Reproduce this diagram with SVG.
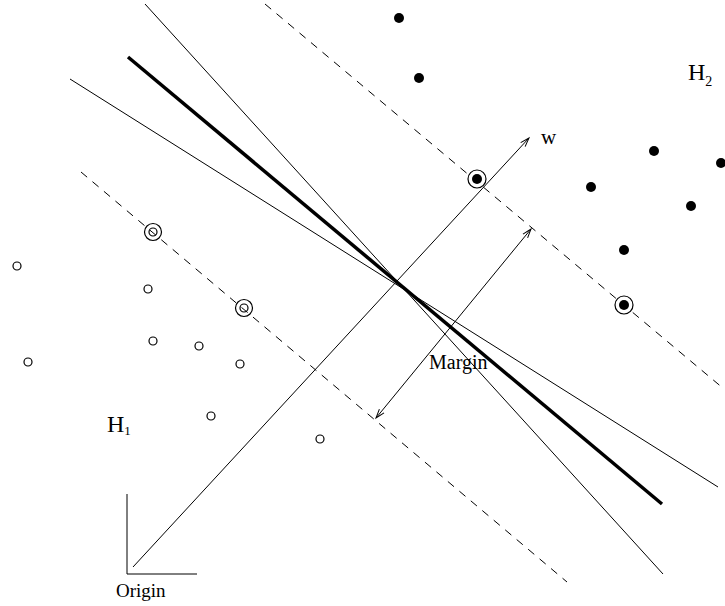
<svg xmlns="http://www.w3.org/2000/svg" width="725" height="606" viewBox="0 0 725 606">
<style>
.ln{stroke:#000;stroke-width:1;fill:none}
.thick{stroke:#000;stroke-width:3.5;fill:none}
.dash{stroke:#000;stroke-width:1;fill:none;stroke-dasharray:8 7}
.open{fill:#fff;stroke:#000;stroke-width:1.2}
.fill{fill:#000;stroke:none}
.ring{fill:none;stroke:#000;stroke-width:1.2}
text{font-family:"Liberation Serif","Times New Roman",serif;fill:#000}
</style>
<defs>
<marker id="ah" viewBox="-10 -5 12 10" refX="0" refY="0" markerWidth="12" markerHeight="10" markerUnits="userSpaceOnUse" orient="auto-start-reverse">
<path d="M-9,-3 L0,0 L-9,3" fill="none" stroke="#000" stroke-width="1"/>
</marker>
</defs>
<rect width="725" height="606" fill="#fff"/>
<g id="connectors">
<line class="dash" x1="265" y1="4" x2="724" y2="389"/>
<line class="dash" x1="81" y1="172" x2="567" y2="582"/>
<line class="ln" x1="145" y1="4" x2="663" y2="574"/>
<line class="ln" x1="70" y1="79" x2="718" y2="487"/>
<line class="thick" x1="128" y1="57" x2="662" y2="504"/>
<line class="ln" x1="133" y1="567" x2="529" y2="138" marker-end="url(#ah)"/>
<line class="ln" x1="376" y1="418" x2="531" y2="229" marker-start="url(#ah)" marker-end="url(#ah)"/>
<polyline class="ln" points="127,494 127,574 197,574"/>
</g>
<g id="H1-points">
<circle class="open" cx="17" cy="266" r="4"/>
<circle class="open" cx="148" cy="289" r="4"/>
<circle class="open" cx="28" cy="362" r="4"/>
<circle class="open" cx="153" cy="341" r="4"/>
<circle class="open" cx="199" cy="346" r="4"/>
<circle class="open" cx="240" cy="364" r="4"/>
<circle class="open" cx="211" cy="416" r="4"/>
<circle class="open" cx="320" cy="439" r="4"/>
</g>
<g id="H1-support">
<circle class="ring" cx="153" cy="232" r="8.5"/>
<circle class="ring" cx="153" cy="232" r="4"/>
<circle class="ring" cx="244" cy="308" r="8.5"/>
<circle class="ring" cx="244" cy="308" r="4"/>
</g>
<g id="H2-points">
<circle class="fill" cx="399" cy="18" r="5"/>
<circle class="fill" cx="419" cy="78" r="5"/>
<circle class="fill" cx="654" cy="151" r="5"/>
<circle class="fill" cx="721" cy="163" r="5"/>
<circle class="fill" cx="591" cy="187" r="5"/>
<circle class="fill" cx="691" cy="206" r="5"/>
<circle class="fill" cx="624" cy="250" r="5"/>
</g>
<g id="H2-support">
<circle class="open" cx="477" cy="179" r="9"/>
<circle class="fill" cx="477" cy="179" r="5"/>
<circle class="open" cx="624" cy="305" r="9"/>
<circle class="fill" cx="624" cy="305" r="5"/>
</g>
<g id="labels">
<text x="107" y="432" font-size="24">H<tspan font-size="13" dy="3">1</tspan></text>
<text x="688" y="80" font-size="24">H<tspan font-size="14" dy="6">2</tspan></text>
<text x="541" y="144" font-size="21">w</text>
<text x="429" y="369" font-size="20">Margin</text>
<text x="116" y="597" font-size="19">Origin</text>
</g>
</svg>
